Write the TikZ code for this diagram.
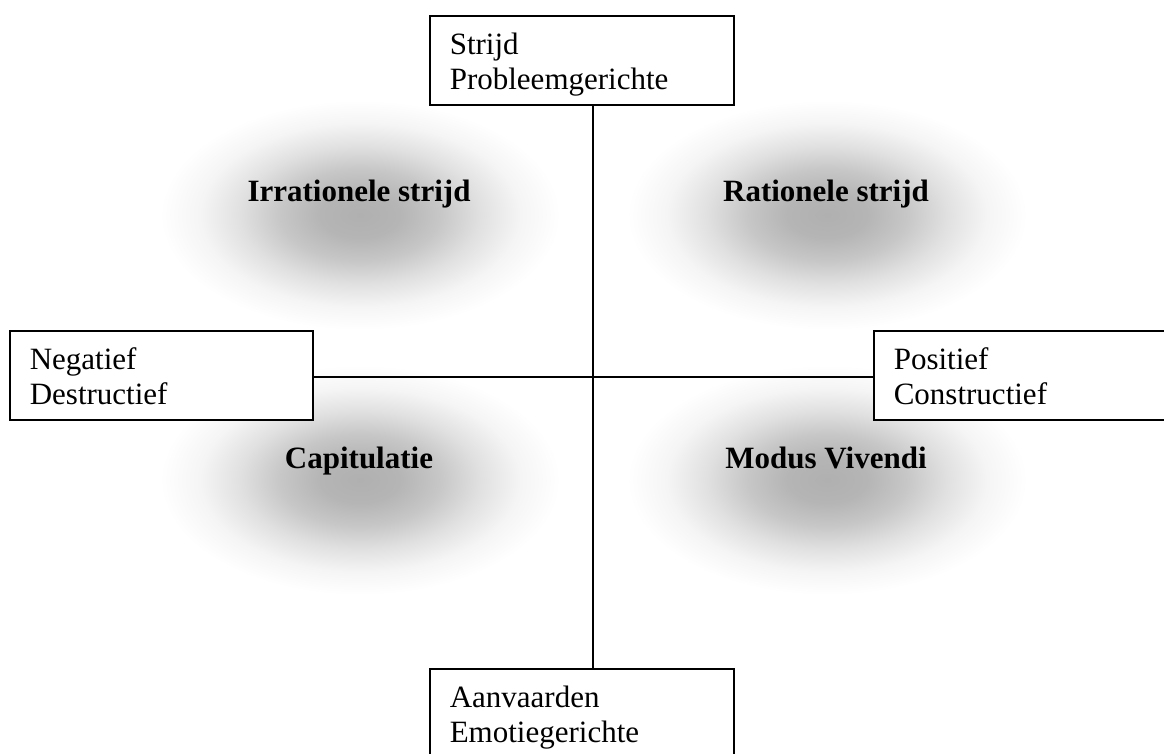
\documentclass[tikz,border=0pt]{standalone}
\usepackage{fontspec}
\setmainfont{Liberation Serif}
\pgfdeclareradialshading{blob}{\pgfpoint{0bp}{0bp}}{color(0bp)=(black!31); color(5bp)=(black!29); color(10bp)=(black!22); color(15bp)=(black!12); color(20bp)=(black!4); color(25bp)=(white); color(50bp)=(white)}
\begin{document}
\begin{tikzpicture}[x=1pt,y=-1pt,
  box/.style={draw, fill=white, line width=1.6pt, rectangle, anchor=north west,
    inner xsep=20pt, inner ysep=8pt, align=left, font=\fontsize{31}{35}\selectfont},
  lab/.style={font=\fontsize{31}{35}\selectfont\bfseries, anchor=base, inner sep=0pt},
  conn/.style={line width=1.6pt},
  blobshade/.style={shading=blob}]
\clip (0,0) rectangle (1164,754);
\fill[white] (0,0) rectangle (1164,754);
% soft shadows
\shade[blobshade] (360,215) ellipse (200 and 115);
\shade[blobshade] (827,215) ellipse (200 and 115);
\shade[blobshade] (360,480) ellipse (200 and 115);
\shade[blobshade] (827,480) ellipse (200 and 115);
% boxes
\node[box, text width=264pt] (top) at (429,15)
  {\rule{0pt}{31pt}Strijd\\Probleemgerichte\rule[-7pt]{0pt}{7pt}};
\node[box, text width=263pt] (left) at (9,330)
  {\rule{0pt}{31pt}Negatief\\Destructief\rule[-7pt]{0pt}{7pt}};
\node[box, text width=260pt] (right) at (873,330)
  {\rule{0pt}{31pt}Positief\\Constructief\rule[-7pt]{0pt}{7pt}};
\node[box, text width=264pt] (bottom) at (429,668)
  {\rule{0pt}{31pt}Aanvaarden\\Emotiegerichte\rule[-7pt]{0pt}{7pt}};
% axes
\coordinate (c) at (593,377);
\draw[conn] (top.south -| c) -- (bottom.north -| c);
\draw[conn] (left.east |- c) -- (right.west |- c);
% quadrant labels
\node[lab] (irr) at (359,202) {Irrationele strijd};
\node[lab] (rat) at (826,202) {Rationele strijd};
\node[lab] (cap) at (359,468) {Capitulatie};
\node[lab] (mod) at (826,468) {Modus Vivendi};
\end{tikzpicture}
\end{document}
